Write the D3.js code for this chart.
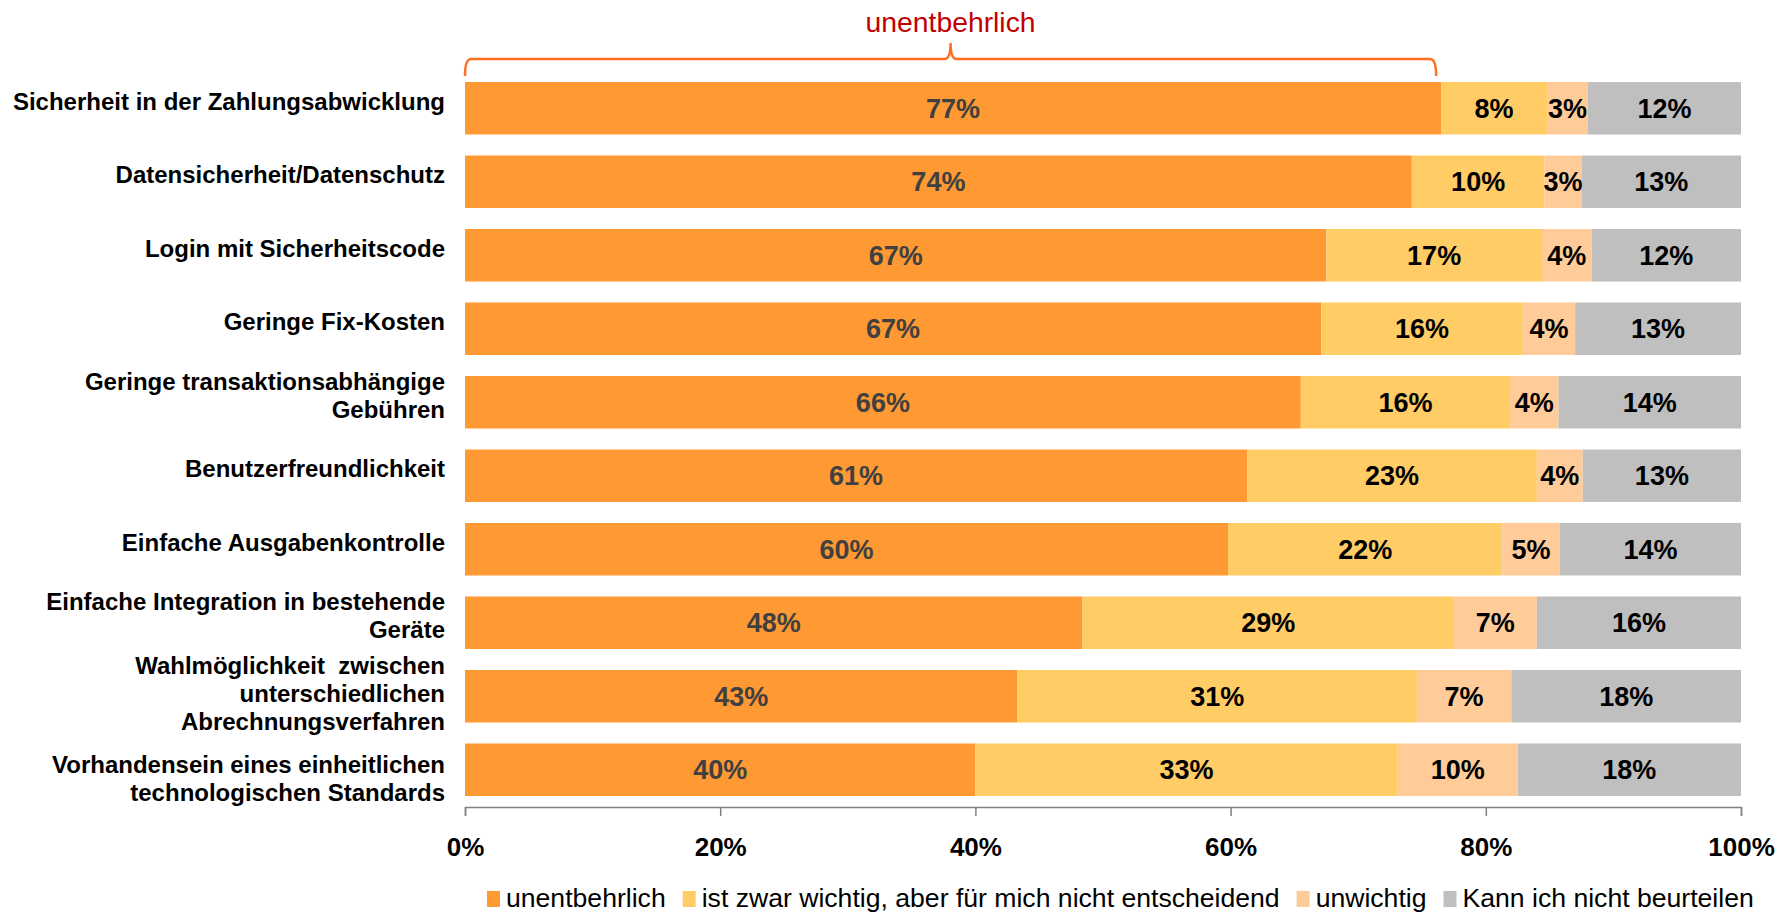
<!DOCTYPE html>
<html>
<head>
<meta charset="utf-8">
<script src="https://cdn.jsdelivr.net/npm/d3@7"></script>
<style>
  html, body { margin: 0; padding: 0; background: #fff; }
  svg { display: block; font-family: "Liberation Sans", Arial, sans-serif; }
  .pre { white-space: pre; }
</style>
</head>
<body>
<svg id="chart" width="1788" height="912"></svg>
<script>
// ---------- DATA ----------
const categories = [
  "Sicherheit in der Zahlungsabwicklung",
  "Datensicherheit/Datenschutz",
  "Login mit Sicherheitscode",
  "Geringe Fix-Kosten",
  "Geringe transaktionsabhängige\nGebühren",
  "Benutzerfreundlichkeit",
  "Einfache Ausgabenkontrolle",
  "Einfache Integration in bestehende\nGeräte",
  "Wahlmöglichkeit  zwischen\nunterschiedlichen\nAbrechnungsverfahren",
  "Vorhandensein eines einheitlichen\ntechnologischen Standards"
];
const seriesNames = ["unentbehrlich", "ist zwar wichtig, aber für mich nicht entscheidend", "unwichtig", "Kann ich nicht beurteilen"];
const unentbehrlich   = [76.5, 74.2, 67.5, 67.1, 65.5, 61.3, 59.8, 48.4, 43.3, 40.0];
const wichtig         = [8.3, 10.4, 16.9, 15.8, 16.4, 22.7, 21.5, 29.1, 31.3, 33.1];
const unwichtig       = [3.2, 2.9, 3.9, 4.1, 3.8, 3.6, 4.5, 6.5, 7.4, 9.4];
const nichtBeurteilen = [12.0, 12.5, 11.7, 13.0, 14.3, 12.4, 14.2, 16.0, 18.0, 17.5];
// printed labels (rounded values as shown)
const lblUnentbehrlich   = [77, 74, 67, 67, 66, 61, 60, 48, 43, 40];
const lblWichtig         = [8, 10, 17, 16, 16, 23, 22, 29, 31, 33];
const lblUnwichtig       = [3, 3, 4, 4, 4, 4, 5, 7, 7, 10];
const lblNichtBeurteilen = [12, 13, 12, 13, 14, 13, 14, 16, 18, 18];
const tickValues = [0, 20, 40, 60, 80, 100];
const braceLabel = "unentbehrlich";

// ---------- STYLE ----------
const colors = ["#FF9933", "#FFCC66", "#FFCC99", "#BFBFBF"];
const labelColors = ["#404040", "#000", "#000", "#000"];
const catLabelShift = [0, 0, 0, 0, 0, 0, 0, 0, 4, 16];

const keys = ["a", "b", "c", "d"];
const valueArrays = [unentbehrlich, wichtig, unwichtig, nichtBeurteilen];
const labelArrays = [lblUnentbehrlich, lblWichtig, lblUnwichtig, lblNichtBeurteilen];
const table = categories.map((c, i) => {
  const row = { cat: c, i: i };
  keys.forEach((k, j) => row[k] = valueArrays[j][i]);
  return row;
});

const svg = d3.select("#chart");
const x = d3.scaleLinear().domain([0, 100]).range([465, 1741]);
const y = d3.scaleBand().domain(categories).range([71.5, 806.5])
  .paddingInner(0.2857).paddingOuter(0.1429);

const stacked = d3.stack().keys(keys)(table);

// bars
const layers = svg.append("g").selectAll("g").data(stacked).join("g")
  .attr("fill", (d, j) => colors[j]);
layers.selectAll("rect").data(d => d).join("rect")
  .attr("x", d => x(d[0]))
  .attr("y", d => y(d.data.cat))
  .attr("width", d => x(d[1]) - x(d[0]))
  .attr("height", y.bandwidth());

// bar labels
const lblG = svg.append("g").attr("font-size", 27).attr("font-weight", "bold")
  .attr("text-anchor", "middle");
stacked.forEach((layer, j) => {
  lblG.append("g").attr("fill", labelColors[j]).selectAll("text").data(layer).join("text")
    .attr("x", d => (x(d[0]) + x(d[1])) / 2)
    .attr("y", d => y(d.data.cat) + y.bandwidth() / 2)
    .attr("dy", "0.36em")
    .text(d => labelArrays[j][d.data.i] + "%");
});

// category labels
const catG = svg.append("g").attr("font-size", 24).attr("font-weight", "bold")
  .attr("text-anchor", "end").attr("fill", "#000");
categories.forEach((c, i) => {
  const lines = c.split("\n");
  const cy = y(c) + y.bandwidth() / 2 - 7 + catLabelShift[i];
  const t = catG.append("text").attr("class", "pre").attr("xml:space", "preserve");
  lines.forEach((ln, k) => {
    t.append("tspan").attr("class", "pre").attr("x", 445)
      .attr("y", cy + (k - (lines.length - 1) / 2) * 28 + 8.6)
      .text(ln);
  });
});

// x axis
const axis = svg.append("g").attr("transform", "translate(0,807)")
  .call(d3.axisBottom(x).tickValues(tickValues).tickSize(9).tickPadding(22)
    .tickFormat(d => d + "%"));
axis.select(".domain").attr("stroke", "#808080").attr("stroke-width", 1.5);
axis.selectAll(".tick line").attr("stroke", "#808080").attr("stroke-width", 1.5);
axis.selectAll(".tick text").attr("font-size", 26).attr("font-weight", "bold")
  .attr("fill", "#000").attr("font-family", "Liberation Sans, Arial, sans-serif");

// brace over first bar's "unentbehrlich" segment
const L = x(0), R = x(unentbehrlich[0]) - 5, M = (L + R) / 2;
const by = 59;
svg.append("path")
  .attr("d", `M${L},76 Q${L},${by} ${L + 6},${by} H${M - 6} Q${M},${by} ${M},${by - 16} Q${M},${by} ${M + 6},${by} H${R - 6} Q${R},${by} ${R},76`)
  .attr("fill", "none").attr("stroke", "#FF7020").attr("stroke-width", 2.5);
svg.append("text").attr("x", M).attr("y", 32).attr("text-anchor", "middle")
  .attr("font-size", 28.3).attr("fill", "#C00000").text(braceLabel);

// legend
const leg = svg.append("g").attr("font-size", 26.6).attr("fill", "#000");
let lx = 487;
seriesNames.forEach((n, j) => {
  leg.append("rect").attr("x", lx).attr("y", 891).attr("width", 13).attr("height", 16)
    .attr("fill", colors[j]);
  const t = leg.append("text").attr("x", lx + 19).attr("y", 907).text(n);
  lx += 19 + t.node().getComputedTextLength() + 17;
});
</script>
</body>
</html>
